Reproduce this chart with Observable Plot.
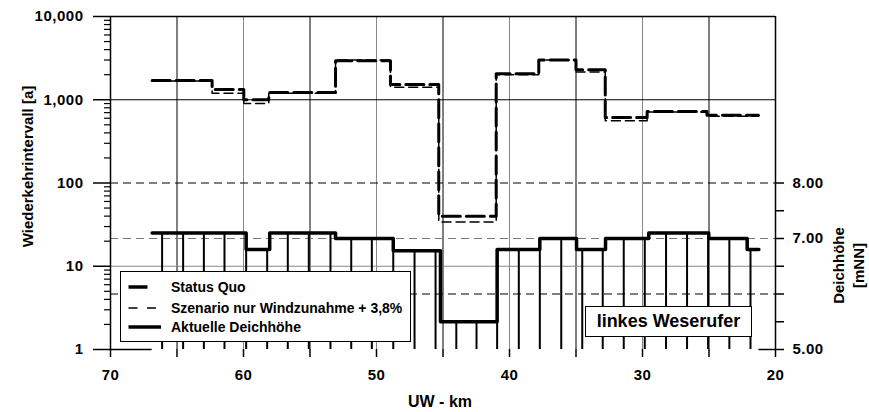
<!DOCTYPE html>
<html><head><meta charset="utf-8">
<script src="https://cdn.jsdelivr.net/npm/d3@7"></script>
<script src="https://cdn.jsdelivr.net/npm/@observablehq/plot@0.6"></script>
<style>
body{margin:0;background:#fff;font-family:"Liberation Sans",Arial,sans-serif;}
#wrap{position:relative;width:869px;height:412px;overflow:hidden;}
.box{position:absolute;background:#fff;border:1.5px solid #000;box-sizing:border-box;font-weight:bold;color:#000;}
.row{position:absolute;left:6px;height:16px;display:flex;align-items:center;font-size:14px;white-space:nowrap;}
.row svg{width:44px;height:16px;flex:none;}
#chart svg g[aria-label*="tick label"], #chart svg g[aria-label*="tick label"] text{font-size:15px !important;font-weight:bold !important;letter-spacing:0.5px;}
</style></head>
<body>
<div id="wrap">
  <div id="chart"></div>
  <div class="box" style="left:120px;top:271px;width:291px;height:71px;">
    <div class="row" style="top:6.5px"><svg><line x1="1.5" x2="20.5" y1="8" y2="8" stroke="#000" stroke-width="3.5"/></svg><span>Status Quo</span></div>
    <div class="row" style="top:27.5px"><svg><line x1="1.5" x2="29" y1="8" y2="8" stroke="#000" stroke-width="1.5" stroke-dasharray="9,9.5"/></svg><span>Szenario nur Windzunahme + 3,8%</span></div>
    <div class="row" style="top:47px"><svg><line x1="1.5" x2="34" y1="8" y2="8" stroke="#000" stroke-width="3.5"/></svg><span>Aktuelle Deichhöhe</span></div>
  </div>
  <div class="box" style="left:585px;top:306px;width:167px;height:31px;font-size:18px;line-height:28px;text-align:center;">linkes Weserufer</div>
</div>
<script>
// Status Quo: step start km and return period [a]
const sqKm  = [66.87, 62.36, 59.98, 58.1, 53.08, 48.95, 45.32, 41.0, 37.8, 35.0, 32.8, 29.65, 25.15, 21.28];
const sqVal = [1700, 1330, 1000, 1220, 2950, 1520, 40, 2050, 3000, 2300, 610, 725, 650, 650];
// Szenario nur Windzunahme + 3,8%
const scKm  = [66.87, 62.36, 59.98, 58.1, 53.08, 48.95, 45.32, 41.0, 37.8, 35.0, 32.8, 29.65, 25.15, 21.28];
const scVal = [1680, 1200, 900, 1200, 3000, 1410, 34, 2000, 3000, 2150, 560, 715, 635, 635];
// Aktuelle Deichhöhe [mNN] step profile
const dikeKm = [66.87, 59.8, 58.03, 53.08, 48.74, 45.19, 40.93, 37.72, 34.96, 32.78, 29.53, 25.02, 22.13, 21.25];
const dikeH  = [7.1, 6.8, 7.1, 7.0, 6.78, 5.5, 6.8, 7.0, 6.8, 7.0, 7.1, 7.0, 6.8, 6.8];
// stations (vertical bars)
const stationKm = [66.12, 64.54, 62.98, 61.43, 59.8, 58.22, 56.67, 55.09, 53.46, 51.9, 50.35, 48.74, 47.14, 45.56, 44.0, 42.48, 40.93, 39.3, 37.72, 36.11, 34.53, 32.99, 31.41, 29.83, 28.23, 26.65, 25.07, 23.47, 21.88];
const stationH  = [7.1, 7.1, 7.1, 7.1, 7.1, 6.8, 7.1, 7.1, 7.1, 7.0, 7.0, 7.0, 6.78, 6.78, 5.5, 5.5, 6.8, 6.8, 7.0, 7.0, 6.8, 6.8, 7.0, 7.0, 7.1, 7.1, 7.1, 7.0, 6.8];
// ticks
const leftTicks = [1, 10, 100, 1000, 10000];
const leftMinor = [2,3,4,5,6,7,8,9,20,30,40,50,60,70,80,90,200,300,400,500,600,700,800,900,2000,3000,4000,5000,6000,7000,8000,9000];
const rightTicks = [5, 6, 7, 8];
const rightMinor = [5.5, 6.5, 7.5];
const xTicks = [70, 60, 50, 40, 30, 20];
const xMinor = [65, 55, 45, 35, 25];
const gridGray = [60, 50, 40, 30];
const gridBlack = [65, 55, 45, 35, 25];

// right axis (Deichhöhe 5..11 m) mapped onto the log axis (1..10000)
const toV = h => Math.pow(10, (h - 5) * 2 / 3);
const fromV = v => 5 + 1.5 * Math.log10(v);

const sq = sqKm.map((km, i) => ({km, v: sqVal[i]}));
const sc = scKm.map((km, i) => ({km, v: scVal[i]}));
const dike = dikeKm.map((km, i) => ({km, v: toV(dikeH[i])}));
const stations = stationKm.map((km, i) => ({km, v: toV(stationH[i])}));
const bottomSegs = [{x1: 70, x2: dikeKm[0]}, {x1: dikeKm[dikeKm.length - 1], x2: 20}];

const font = {fontSize: 15, fontWeight: "bold"};
const dash = "8,5";

const chart = Plot.plot({
  width: 869, height: 412,
  marginLeft: 110, marginRight: 94, marginTop: 16, marginBottom: 63,
  x: {domain: [70, 20], label: null},
  y: {type: "log", domain: [1, 10000], label: null},
  style: {fontFamily: '"Liberation Sans", Arial, sans-serif', fontSize: "15px", fontWeight: "bold", background: "#fff", color: "#000"},
  marks: [
    Plot.ruleX(gridGray, {stroke: "#888", strokeWidth: 1}),
    Plot.ruleX(gridBlack, {stroke: "#000", strokeWidth: 1}),
    Plot.ruleY([1000], {stroke: "#000", strokeWidth: 1}),
    Plot.ruleY([10], {stroke: "#888", strokeWidth: 1}),
    Plot.ruleY([100], {stroke: "#000", strokeWidth: 1, strokeDasharray: dash}),
    Plot.ruleY([toV(7)], {stroke: "#777", strokeWidth: 1, strokeDasharray: dash}),
    Plot.ruleY([toV(6)], {stroke: "#000", strokeWidth: 1, strokeDasharray: dash}),
    Plot.ruleX(stations, {x: "km", y1: () => toV(5), y2: "v", stroke: "#000", strokeWidth: 2}),
    Plot.line(dike, {x: "km", y: "v", curve: "step-after", stroke: "#000", strokeWidth: 3.5}),
    Plot.line(sc, {x: "km", y: "v", curve: "step-after", stroke: "#000", strokeWidth: 1.5, strokeDasharray: "9,5"}),
    Plot.line(sq, {x: "km", y: "v", curve: "step-after", stroke: "#000", strokeWidth: 3, strokeDasharray: "18,6"}),
    Plot.ruleY([10000], {stroke: "#000", strokeWidth: 1.5}),
    Plot.ruleX([70, 20], {stroke: "#000", strokeWidth: 1.5}),
    Plot.ruleY(bottomSegs, {x1: "x1", x2: "x2", y: () => 1, stroke: "#000", strokeWidth: 1.5}),
    Plot.axisY({ticks: leftTicks, tickFormat: d3.format(","), tickSize: 17, tickPadding: 10, strokeWidth: 1.5, label: null, ...font}),
    Plot.axisY({ticks: leftMinor, tickFormat: () => "", tickSize: 6, strokeWidth: 1.2, label: null}),
    Plot.axisY({anchor: "right", ticks: rightTicks.map(toV), tickFormat: v => fromV(v).toFixed(2), tickSize: 8, tickPadding: 9, strokeWidth: 1.5, label: null, ...font}),
    Plot.axisY({anchor: "right", ticks: rightMinor.map(toV), tickFormat: () => "", tickSize: 8, strokeWidth: 1.5, label: null}),
    Plot.axisX({ticks: xTicks, tickFormat: d => String(d), tickSize: 8, tickPadding: 12, strokeWidth: 1.5, label: null, ...font}),
    Plot.axisX({ticks: xMinor, tickFormat: () => "", tickSize: 8, strokeWidth: 1.5, label: null}),
    Plot.text(["Wiederkehrintervall [a]"], {frameAnchor: "left", rotate: -90, dx: -82, dy: -16.5, textAnchor: "middle", lineAnchor: "middle", ...font}),
    Plot.text(["UW - km"], {frameAnchor: "bottom", dx: -3, dy: 52, textAnchor: "middle", lineAnchor: "middle", fontSize: 16, fontWeight: "bold"}),
    Plot.text(["Deichhöhe\n[mNN]"], {frameAnchor: "right", rotate: -90, dx: 72.5, dy: 82.5, textAnchor: "middle", lineAnchor: "middle", lineHeight: 1.33, fontSize: 15, fontWeight: "bold"})
  ]
});
document.getElementById("chart").appendChild(chart);
</script>
</body></html>
